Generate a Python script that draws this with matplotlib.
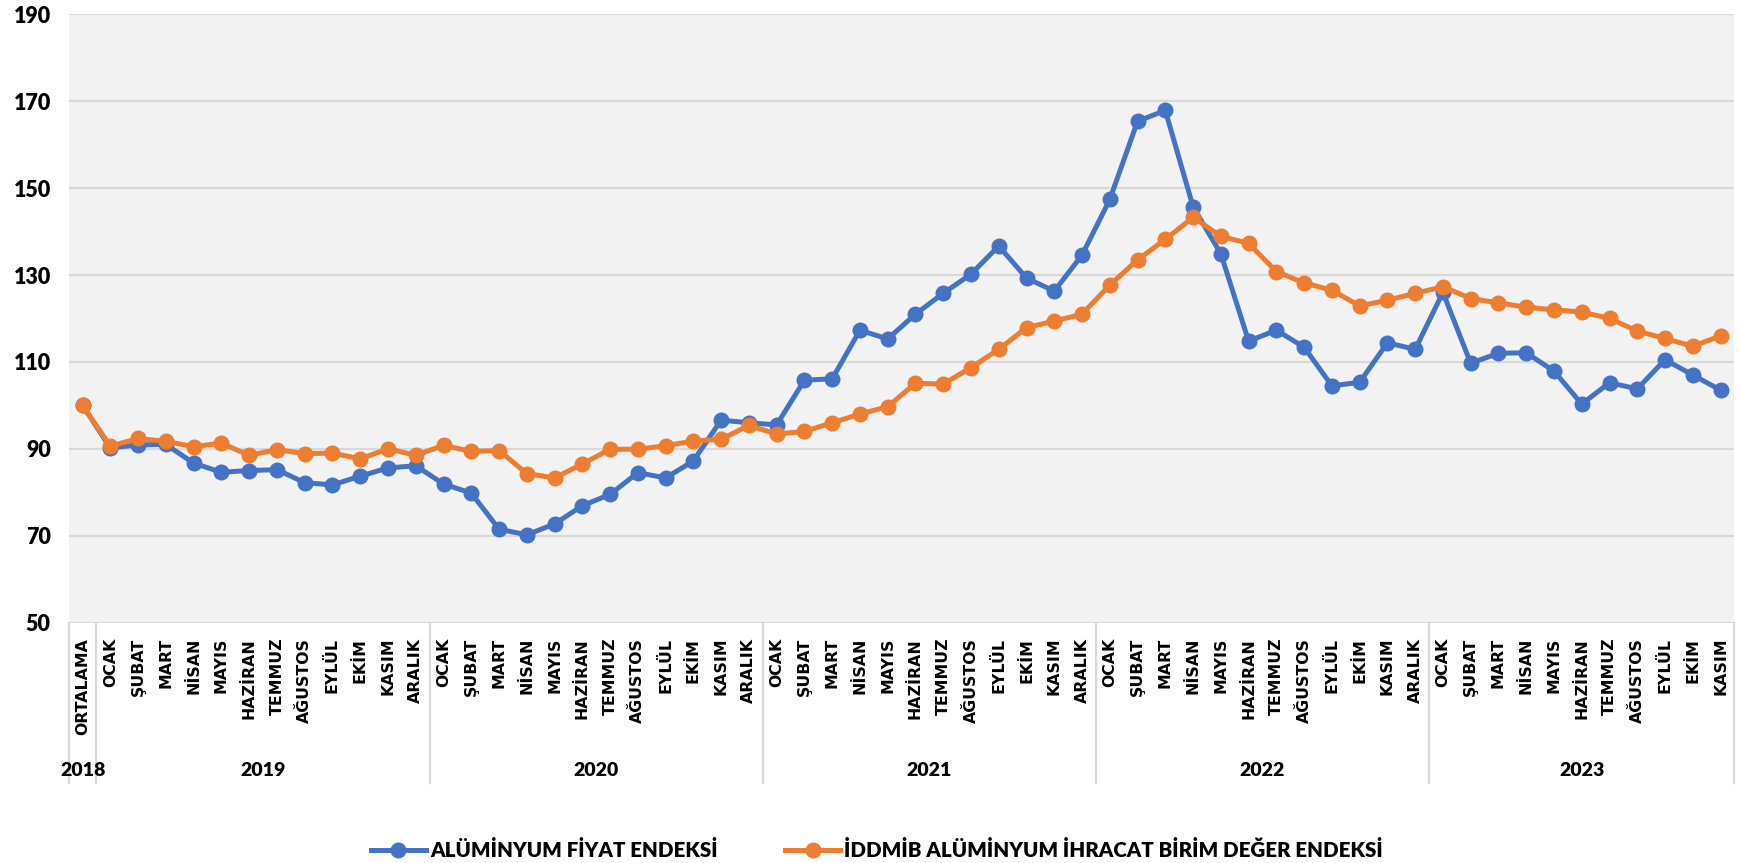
import matplotlib
matplotlib.use("Agg")
import matplotlib.pyplot as plt
from matplotlib import transforms
from matplotlib.font_manager import FontProperties

month_names = ["OCAK", "ŞUBAT", "MART", "NİSAN", "MAYIS", "HAZİRAN", "TEMMUZ",
               "AĞUSTOS", "EYLÜL", "EKİM", "KASIM", "ARALIK"]
years = ["2018", "2019", "2020", "2021", "2022", "2023"]
year_counts = [1, 12, 12, 12, 12, 11]
categories = ["ORTALAMA"] + month_names * 4 + month_names[:11]

series_names = ["ALÜMİNYUM FİYAT ENDEKSİ", "İDDMİB ALÜMİNYUM İHRACAT BİRİM DEĞER ENDEKSİ"]

price_index = [100.0,
               90.2, 90.9, 91.0, 86.7, 84.6, 85.0, 85.2, 82.2, 81.7, 83.7, 85.6, 86.1,
               81.9, 79.8, 71.5, 70.2, 72.7, 76.9, 79.5, 84.5, 83.3, 87.2, 96.6, 96.0,
               95.5, 105.8, 106.1, 117.3, 115.3, 121.0, 125.8, 130.2, 136.7, 129.3, 126.3, 134.6,
               147.4, 165.4, 167.9, 145.7, 134.9, 114.8, 117.3, 113.4, 104.5, 105.3, 114.4, 112.9,
               126.0, 109.7, 112.0, 112.1, 107.9, 100.3, 105.2, 103.8, 110.5, 107.0, 103.5]

export_index = [100.0,
                90.6, 92.4, 91.7, 90.5, 91.3, 88.5, 89.8, 88.9, 89.0, 87.7, 90.0, 88.5,
                90.8, 89.4, 89.6, 84.3, 83.3, 86.5, 89.9, 89.9, 90.7, 91.8, 92.2, 95.4,
                93.4, 94.0, 96.0, 98.0, 99.7, 105.1, 104.9, 108.7, 112.9, 117.9, 119.4, 121.0,
                127.7, 133.5, 138.2, 143.3, 138.9, 137.3, 130.8, 128.2, 126.5, 122.9, 124.2, 125.8,
                127.3, 124.6, 123.6, 122.6, 122.0, 121.5, 120.0, 117.1, 115.4, 113.6, 116.0]

y_ticks = [50, 70, 90, 110, 130, 150, 170, 190]

BLUE = "#4472C4"
ORANGE = "#ED7D31"
GRID = "#D9D9D9"

month_font = FontProperties(family="DejaVu Sans", weight="bold", size=11.3)
ytick_font = FontProperties(family="Lato", weight="heavy", size=15.5)
year_font = FontProperties(family="Lato", weight="heavy", size=14)
legend_font = FontProperties(family="Lato", weight="heavy", size=14.8)

fig = plt.figure(figsize=(17.4, 8.63), dpi=100)
ax = fig.add_axes([0.0395, 0.2786, 0.9573, 0.7047])
ax.set_facecolor("#F2F2F2")

x = list(range(len(categories)))
ax.plot(x, price_index, color=BLUE, lw=3.6, marker="o", ms=10.5, label=series_names[0], zorder=3)
ax.plot(x, export_index, color=ORANGE, lw=3.6, marker="o", ms=10.5, label=series_names[1], zorder=4)

ax.set_xlim(-0.5, len(categories) - 0.5)
ax.set_ylim(50, 190)
ax.tick_params(axis="y", length=0, pad=13)
ax.tick_params(axis="x", length=0, pad=11)
ax.yaxis.grid(True, color=GRID, lw=1.6)
ax.set_axisbelow(True)
for s in ax.spines.values():
    s.set_visible(False)

ax.set_yticks(y_ticks)
ax.set_yticklabels([str(v) for v in y_ticks])
ax.set_xticks(x)
ax.set_xticklabels(categories, rotation=90, va="top", ha="center")
for t in ax.get_yticklabels():
    t.set_fontproperties(ytick_font)
for t in ax.get_xticklabels():
    t.set_fontproperties(month_font)

trans = transforms.blended_transform_factory(ax.transData, ax.transAxes)
ax_h_px = 0.7047 * 863
sep_depth = 160 / ax_h_px
year_y = -148 / ax_h_px

bounds = [-0.5]
for c in year_counts:
    bounds.append(bounds[-1] + c)
for b in bounds:
    ax.plot([b, b], [0, -sep_depth], transform=trans, color=GRID, lw=1.6, clip_on=False)
for i, yr in enumerate(years):
    center = (bounds[i] + bounds[i + 1]) / 2
    ax.text(center, year_y, yr, transform=trans, ha="center", va="center",
            fontproperties=year_font)

leg = fig.legend(loc="center", bbox_to_anchor=(0.504, 0.015), ncol=2, frameon=False,
                 prop=legend_font,
                 handlelength=2.67, handletextpad=0.2, columnspacing=3.3)

fig.savefig("out.png", dpi=100, facecolor="white")
